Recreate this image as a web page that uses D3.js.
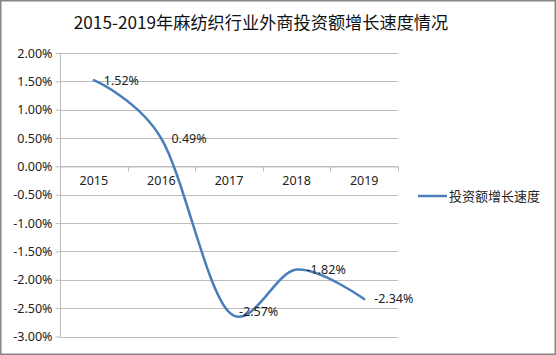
<!DOCTYPE html>
<html><head><meta charset="utf-8">
<script src="https://cdn.jsdelivr.net/npm/d3@7"></script>
<style>html,body{margin:0;padding:0;background:#fff;}svg{display:block;}</style>
</head><body>
<svg id="c" width="556" height="355"></svg>
<script>
const title = "2015-2019年麻纺织行业外商投资额增长速度情况";
const categories = ["2015", "2016", "2017", "2018", "2019"];
const values = [1.52, 0.49, -2.57, -1.82, -2.34];
const seriesName = "投资额增长速度";
const yTicks = [2.0, 1.5, 1.0, 0.5, 0.0, -0.5, -1.0, -1.5, -2.0, -2.5, -3.0];

const svg = d3.select("#c");
const font = "'Noto Sans', 'Noto Sans CJK SC', sans-serif";
const W = 556, H = 355;
const plot = {left: 60, right: 398, top: 53, bottom: 336.5};

svg.append("rect").attr("x", 0.75).attr("y", 0.75).attr("width", W - 1.5).attr("height", H - 1.5)
  .attr("fill", "#fff").attr("stroke", "#868686").attr("stroke-width", 1.5);

svg.append("text").attr("x", 261).attr("y", 29).attr("text-anchor", "middle")
  .attr("font-family", "'Noto Sans CJK SC', sans-serif").attr("font-size", 17.2).attr("fill", "#111")
  .text(title);

const x = d3.scaleBand().domain(categories).range([plot.left, plot.right]);
const y = d3.scaleLinear().domain([-3, 2]).range([plot.bottom, plot.top]);

// gridlines
svg.append("g").selectAll("line").data(yTicks).join("line")
  .attr("x1", plot.left).attr("x2", plot.right)
  .attr("y1", d => Math.round(y(d)) + 0.5).attr("y2", d => Math.round(y(d)) + 0.5)
  .attr("stroke", "#bdbdbd").attr("stroke-width", 1);

// y axis
const yAxis = d3.axisLeft(y).tickValues(yTicks).tickSize(5).tickFormat(d => d.toFixed(2) + "%");
const gy = svg.append("g").attr("transform", `translate(${plot.left + 0.5},0)`).call(yAxis);
gy.select(".domain").attr("stroke", "#bdbdbd").attr("d", `M0,${y(2)}V${y(-3)}`);
gy.selectAll(".tick line").attr("stroke", "#bdbdbd");
gy.selectAll(".tick text").attr("font-family", font).attr("font-size", 12.5).attr("fill", "#222").attr("x", -8);

// x axis at zero
const xAxis = d3.axisBottom(x).tickSize(0).tickSizeOuter(0);
const gx = svg.append("g").attr("transform", `translate(0,${Math.round(y(0)) + 0.5})`).call(xAxis);
gx.select(".domain").attr("stroke", "#bdbdbd");
gx.selectAll(".tick text").attr("font-family", font).attr("font-size", 12.5).attr("fill", "#222").attr("dy", "1.25em");
const bounds = categories.map(c => x(c)).concat([plot.right]);
gx.selectAll(".bnd").data(bounds).join("line").attr("class", "bnd")
  .attr("x1", d => Math.round(d) + 0.5).attr("x2", d => Math.round(d) + 0.5)
  .attr("y1", 0).attr("y2", 5).attr("stroke", "#bdbdbd");

// line
const pts = categories.map((c, i) => [x(c) + x.bandwidth() / 2, y(values[i])]);
svg.append("path").attr("d", d3.line().curve(d3.curveCardinal.tension(0))(pts))
  .attr("fill", "none").attr("stroke", "#4a7ebb").attr("stroke-width", 2.5).attr("stroke-linecap", "round");

// data labels
svg.append("g").selectAll("text").data(pts).join("text")
  .attr("x", d => d[0] + 10).attr("y", d => d[1]).attr("dy", "0.35em")
  .attr("font-family", font).attr("font-size", 12.5).attr("fill", "#222")
  .text((d, i) => values[i].toFixed(2) + "%");

// legend
const ly = 196;
svg.append("line").attr("x1", 418).attr("x2", 447).attr("y1", ly).attr("y2", ly)
  .attr("stroke", "#4a7ebb").attr("stroke-width", 2.5);
svg.append("text").attr("x", 449).attr("y", ly).attr("dy", "0.36em")
  .attr("font-family", "'Noto Sans CJK SC', sans-serif").attr("font-size", 13).attr("fill", "#222")
  .text(seriesName);
</script>
</body></html>
